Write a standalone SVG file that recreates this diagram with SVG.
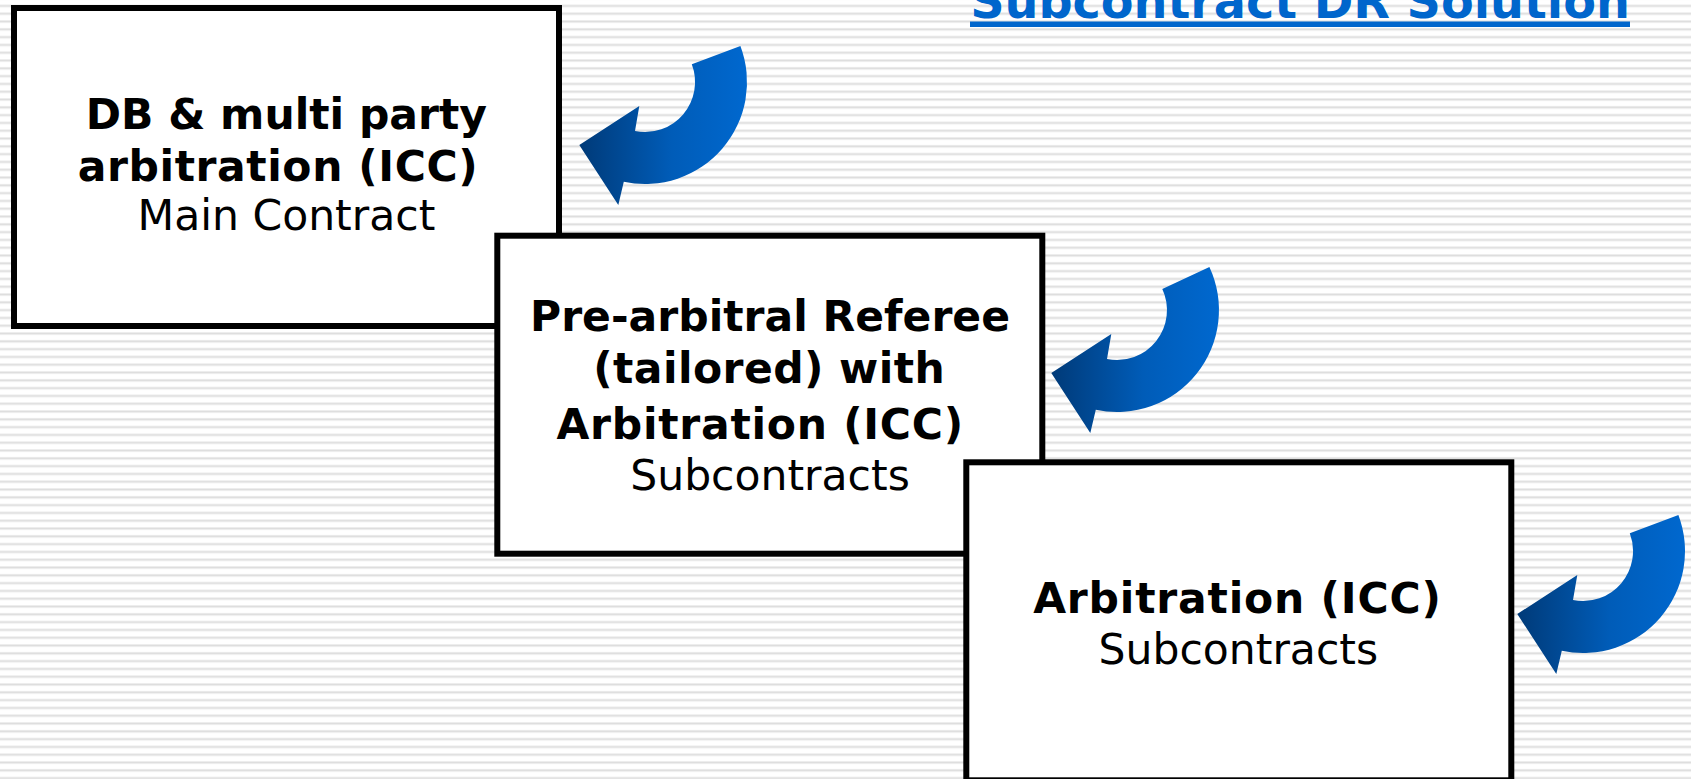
<svg xmlns="http://www.w3.org/2000/svg" width="1691" height="779" viewBox="0 0 1691 779">
  <defs>
    <pattern id="stripes" patternUnits="userSpaceOnUse" x="0" y="4.5" width="20" height="7.8">
      <rect x="0" y="0" width="20" height="7.8" fill="#ffffff"/>
      <rect x="0" y="0" width="20" height="0.6" fill="#eeeeee"/>
      <rect x="0" y="0.6" width="20" height="1.8" fill="#dddddd"/>
      <rect x="0" y="2.4" width="20" height="0.6" fill="#eeeeee"/>
    </pattern>
    <linearGradient id="arrowGrad" x1="0" y1="0" x2="1" y2="0">
      <stop offset="0" stop-color="#003a78"/>
      <stop offset="0.55" stop-color="#005cb8"/>
      <stop offset="1" stop-color="#0068cf"/>
    </linearGradient>
    <path id="curvedArrow" d="M 740.4 45.9 A 102 102 0 0 1 623.8 181.8 L 618.3 205 L 579.3 145 L 639.3 106 L 635 131 A 50 50 0 0 0 691.8 64.3 Z"/>
    <path id="curvedArrowLong" d="M 737.4 38.9 A 102 102 0 0 1 623.8 181.8 L 618.3 205 L 579.3 145 L 639.3 106 L 635 131 A 50 50 0 0 0 690.3 60.9 Z"/>
  </defs>
  <style>
    .box { fill: #ffffff; stroke: #000000; stroke-width: 6; }
    .bold { font-family: "DejaVu Sans", Verdana, sans-serif; font-weight: bold; font-size: 42.5px; fill: #000000; text-anchor: middle; }
    .reg { font-family: "DejaVu Sans", Verdana, sans-serif; font-size: 42.5px; fill: #000000; text-anchor: middle; }
    .title { font-family: "DejaVu Sans", Verdana, sans-serif; font-weight: bold; font-size: 47.7px; fill: #0066cc; text-anchor: middle; }
    .arrow { fill: url(#arrowGrad); }
  </style>
  <rect x="0" y="0" width="1691" height="779" fill="url(#stripes)"/>

  <g id="title">
    <text class="title" x="1300" y="18">Subcontract DR Solution</text>
    <rect x="970" y="21.5" width="660" height="5.5" fill="#0066cc"/>
  </g>

  <g id="node-main-contract">
    <rect class="box" x="14" y="8" width="545" height="318"/>
    <text class="bold" x="286.4" y="128.5">DB &amp; multi party</text>
    <text class="bold" x="277.7" y="180.5" textLength="400" lengthAdjust="spacing">arbitration (ICC)</text>
    <text class="reg" x="286.4" y="230">Main Contract</text>
  </g>

  <g id="node-pre-arbitral">
    <rect class="box" x="497.3" y="235.7" width="545" height="318"/>
    <text class="bold" x="770" y="331">Pre-arbitral Referee</text>
    <text class="bold" x="769" y="382.5" textLength="351.6" lengthAdjust="spacing">(tailored) with</text>
    <text class="bold" x="759.8" y="438.5" textLength="406.6" lengthAdjust="spacing">Arbitration (ICC)</text>
    <text class="reg" x="770" y="489.6">Subcontracts</text>
  </g>

  <g id="node-arbitration">
    <rect class="box" x="966.3" y="462.3" width="545" height="318"/>
    <text class="bold" x="1237" y="612.5" textLength="407.7" lengthAdjust="spacing">Arbitration (ICC)</text>
    <text class="reg" x="1238.3" y="663.5">Subcontracts</text>
  </g>

  <g id="connectors">
    <use href="#curvedArrow" class="arrow"/>
    <use href="#curvedArrowLong" class="arrow" transform="translate(472 228)"/>
    <use href="#curvedArrow" class="arrow" transform="translate(938 469)"/>
  </g>
</svg>
